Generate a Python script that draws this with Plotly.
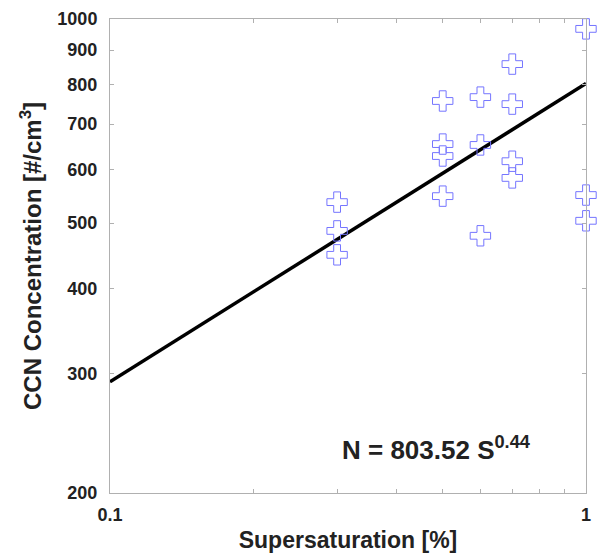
import plotly.graph_objects as go
import numpy as np

# Data
s_values = [0.3, 0.3, 0.3, 0.5, 0.5, 0.5, 0.5, 0.6, 0.6, 0.6, 0.7, 0.7, 0.7, 0.7, 1.0, 1.0, 1.0]
ccn_values = [537, 487, 449, 757, 654, 628, 548, 767, 652, 479, 858, 749, 617, 583, 967, 550, 504]
fit_coef = 803.52
fit_exp = 0.44
fit_s = [0.1, 1.0]
fit_n = [fit_coef * s ** fit_exp for s in fit_s]

x_tickvals = [0.1, 0.2, 0.3, 0.4, 0.5, 0.6, 0.7, 0.8, 0.9, 1.0]
x_ticktext = ["0.1", "", "", "", "", "", "", "", "", "1"]
y_tickvals = [200, 300, 400, 500, 600, 700, 800, 900, 1000]
y_ticktext = ["200", "300", "400", "500", "600", "700", "800", "900", "1000"]

fig = go.Figure()
fig.add_trace(go.Scatter(
    x=fit_s, y=fit_n, mode="lines",
    line=dict(color="black", width=3.5), showlegend=False, cliponaxis=False))
fig.add_trace(go.Scatter(
    x=s_values, y=ccn_values, mode="markers",
    marker=dict(symbol="cross-open", size=17, color="#7575ff",
                line=dict(color="#7575ff", width=1)),
    showlegend=False, cliponaxis=False))

font_family = "Liberation Sans, Arial, sans-serif"
axis_common = dict(
    showline=True, linecolor="#b0b0b0", linewidth=1, mirror="ticks",
    ticks="inside", ticklen=4, tickcolor="#b0b0b0", showgrid=False, zeroline=False,
    automargin=False,
    tickfont=dict(family=font_family, size=18, color="#222"),
)

fig.update_layout(
    width=597, height=555,
    margin=dict(l=110, r=11, t=19, b=62),
    plot_bgcolor="white", paper_bgcolor="white",
    xaxis=dict(type="log", range=[-1, 0], tickmode="array",
               tickvals=x_tickvals,
               ticktext=["<b>%s</b>" % t if t else "" for t in x_ticktext],
               ticklabelstandoff=5,
               title=dict(text="<b>Supersaturation [%]</b>",
                          font=dict(family=font_family, size=23, color="#222"),
                          standoff=8),
               **axis_common),
    yaxis=dict(type="log", range=[np.log10(200), np.log10(1000)], tickmode="array",
               tickvals=y_tickvals,
               ticktext=["<b>%s</b>" % t for t in y_ticktext],
               ticklabelstandoff=8,
               title=dict(text="<b>CCN Concentration [#/cm<sup>3</sup>]</b>",
                          font=dict(family=font_family, size=24, color="#222"),
                          standoff=8),
               **axis_common),
    annotations=[dict(
        x=0.483, y=0.093, xref="paper", yref="paper", xanchor="left", yanchor="middle",
        text="<b>N = 803.52 S<sup>0.44</sup></b>", showarrow=False,
        font=dict(family=font_family, size=26, color="#222"))],
)

fig.write_html("out.html", config={"displayModeBar": False},
               post_script="document.body.style.margin='0';document.body.style.overflow='hidden';")
